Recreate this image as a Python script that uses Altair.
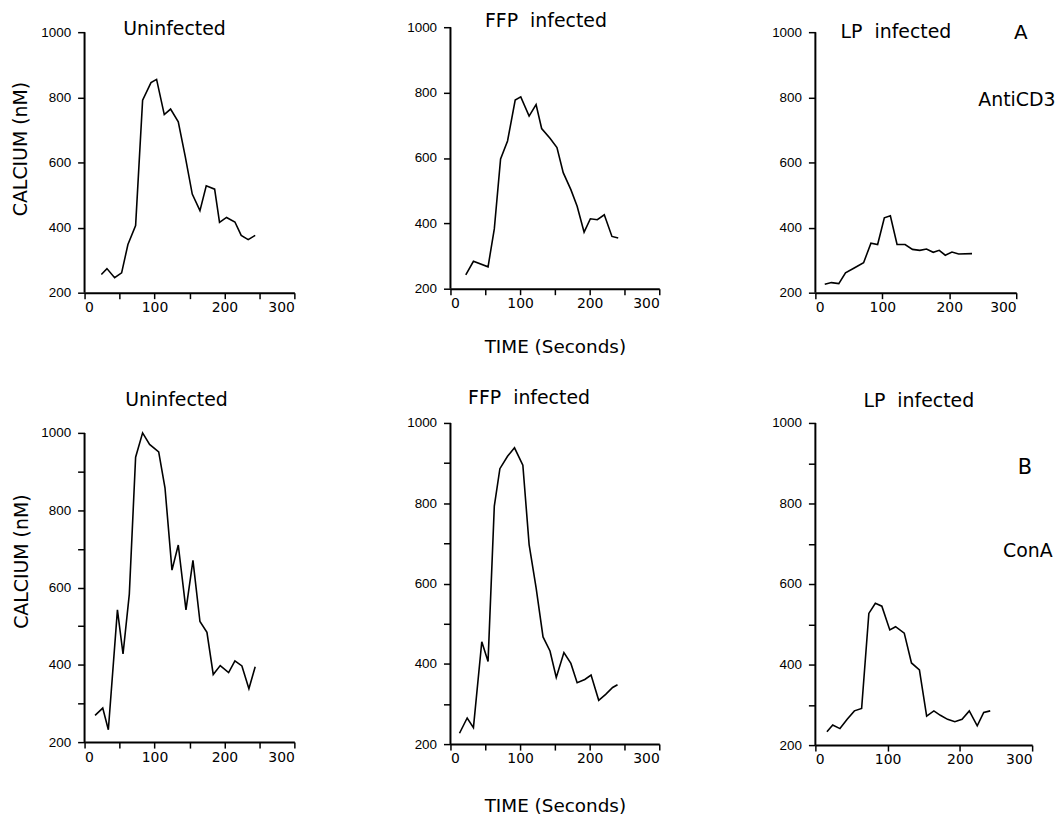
import altair as alt
import pandas as pd

# ---------------- data ----------------
# A: AntiCD3 stimulation
a_unin_t = [24, 32, 43, 53, 62, 73, 83, 95, 103, 114, 123, 134, 144, 154, 165, 174, 186, 193, 203, 215, 224, 234, 244]
a_unin_ca = [256, 274, 246, 261, 348, 406, 791, 845, 855, 747, 764, 725, 618, 503, 452, 528, 518, 416, 431, 417, 376, 363, 376]

a_ffp_t = [22, 33, 54, 63, 72, 82, 93, 101, 113, 123, 131, 143, 153, 162, 173, 182, 192, 201, 211, 221, 232, 241]
a_ffp_ca = [242, 284, 267, 383, 597, 652, 777, 787, 728, 763, 690, 660, 632, 555, 503, 452, 373, 414, 411, 426, 360, 355]

a_lp_t = [14, 24, 35, 45, 58, 72, 83, 93, 103, 112, 122, 134, 145, 156, 166, 176, 185, 194, 204, 214, 234]
a_lp_ca = [226, 231, 228, 261, 276, 292, 352, 348, 430, 436, 348, 348, 333, 330, 334, 324, 330, 315, 325, 319, 320]

# B: ConA stimulation
b_unin_t = [15, 26, 34, 47, 55, 64, 73, 83, 93, 106, 115, 125, 134, 145, 155, 165, 175, 184, 194, 206, 215, 225, 235, 244]
b_unin_ca = [269, 288, 232, 542, 428, 583, 937, 1000, 970, 951, 858, 645, 710, 542, 670, 512, 484, 375, 398, 380, 410, 397, 338, 395]

b_ffp_t = [13, 24, 33, 45, 54, 63, 71, 82, 92, 104, 113, 123, 133, 143, 152, 163, 173, 182, 193, 202, 213, 223, 233, 240]
b_ffp_ca = [227, 265, 241, 455, 406, 793, 886, 917, 938, 895, 697, 590, 467, 432, 366, 428, 401, 353, 361, 372, 309, 324, 341, 348]

b_lp_t = [16, 24, 34, 44, 54, 64, 74, 83, 92, 103, 111, 123, 133, 144, 154, 164, 173, 183, 193, 203, 213, 224, 233, 242]
b_lp_ca = [233, 250, 241, 264, 285, 291, 527, 552, 545, 486, 494, 478, 404, 387, 272, 285, 274, 264, 258, 264, 285, 248, 281, 285]

x_ticks = [0, 50, 100, 150, 200, 250, 300]
y_ticks = [200, 300, 400, 500, 600, 700, 800, 900, 1000]

FONT = "DejaVu Sans"
NB = "\u00a0"  # keeps the wide gap between words in the panel titles


def panel(t, ca, title, width, height, ext_px, title_dx, title_dy,
          ytitle=None, xtitle=None, notes=()):
    # ext_px: extra pixels of plot area above the 1000 line
    px_per_unit = (height - ext_px) / 800.0
    top = 1000 + ext_px / px_per_unit
    df = pd.DataFrame({"t": t, "ca": ca})

    xaxis = alt.Axis(values=x_ticks, format="d",
                     labelExpr="datum.value % 100 == 0 ? datum.label : ''",
                     labelFont=FONT, labelFontSize=14, labelPadding=2,
                     tickSize=6, tickWidth=1.5, domainWidth=2,
                     title=xtitle[0] if xtitle else None,
                     **({"titleY": xtitle[1], "titleBaseline": "alphabetic",
                         "titleFont": FONT, "titleFontSize": 18.5,
                         "titleFontWeight": "normal"} if xtitle else {}))
    yaxis = alt.Axis(values=y_ticks, format="d",
                     labelExpr="datum.value % 200 == 0 ? datum.label : ''",
                     labelFont="Liberation Sans", labelFontSize=13.5, labelPadding=7,
                     tickSize=7, tickWidth=1.5, domain=False,
                     title=ytitle[0] if ytitle else None,
                     **({"titleX": ytitle[1], "titleY": ytitle[2], "titleAngle": -90,
                         "titleBaseline": "alphabetic", "titleAlign": "center",
                         "titleFont": FONT, "titleFontSize": 19,
                         "titleFontWeight": "normal"} if ytitle else {}))

    x = alt.X("t:Q", scale=alt.Scale(domain=[0, 300], nice=False, zero=False), axis=xaxis)
    y = alt.Y("ca:Q", scale=alt.Scale(domain=[200, top], nice=False, zero=False), axis=yaxis)

    line = alt.Chart(df).mark_line(color="black", strokeWidth=1.6).encode(x=x, y=y)
    spine = alt.Chart(pd.DataFrame({"k": [0]})).mark_rule(color="black", strokeWidth=2).encode(
        x=alt.value(0), y=alt.datum(200), y2=alt.datum(1000))
    layers = [line, spine]
    for txt, nx, ny, size in notes:
        layers.append(
            alt.Chart(pd.DataFrame({"k": [0]})).mark_text(
                text=txt, font=FONT, fontSize=size, baseline="alphabetic",
                align="center", color="black").encode(x=alt.datum(nx), y=alt.datum(ny)))
    return alt.layer(*layers).properties(
        width=width, height=height,
        title=alt.TitleParams(title, font=FONT, fontSize=19, fontWeight="normal",
                              anchor="middle", baseline="alphabetic", offset=0,
                              dx=title_dx, dy=title_dy, color="black"))


A1 = panel(a_unin_t, a_unin_ca, "Uninfected", 211, 267, 5, -15, 29,
           ytitle=("CALCIUM (nM)", -58, 122))
A2 = panel(a_ffp_t, a_ffp_ca, "FFP" + NB + " infected", 210, 263, 0, -9, 26,
           xtitle=("TIME (Seconds)", 64))
A3 = panel(a_lp_t, a_lp_ca, "LP" + NB + " infected", 202, 267, 5, -20, 34,
           notes=[("A", 307, 979, 20), ("AntiCD3", 301, 774, 19)])
B1 = panel(b_unin_t, b_unin_ca, "Uninfected", 211, 321, 10, -13, 2,
           ytitle=("CALCIUM (nM)", -57, 139))
B2 = panel(b_ffp_t, b_ffp_ca, "FFP" + NB + " infected", 210, 323, 0, -26, 7,
           xtitle=("TIME (Seconds)", 68))
B3 = panel(b_lp_t, b_lp_ca, "LP" + NB + " infected", 218, 324, 0, -5, 10,
           notes=[("B", 290, 872, 21), ("ConA", 294, 667, 19)])

chart = alt.concat(A1, A2, A3, B1, B2, B3, columns=3,
                   spacing={"row": 131, "column": 157}, bounds="flush").properties(
    padding={"left": 3, "top": 2, "right": 0, "bottom": 0},
    background="white",
).configure_view(stroke=None).configure_axis(
    grid=False, domainColor="black", tickColor="black", labelColor="black",
    titleColor="black")

chart.save("out.html", embed_options={"renderer": "svg", "actions": False})
